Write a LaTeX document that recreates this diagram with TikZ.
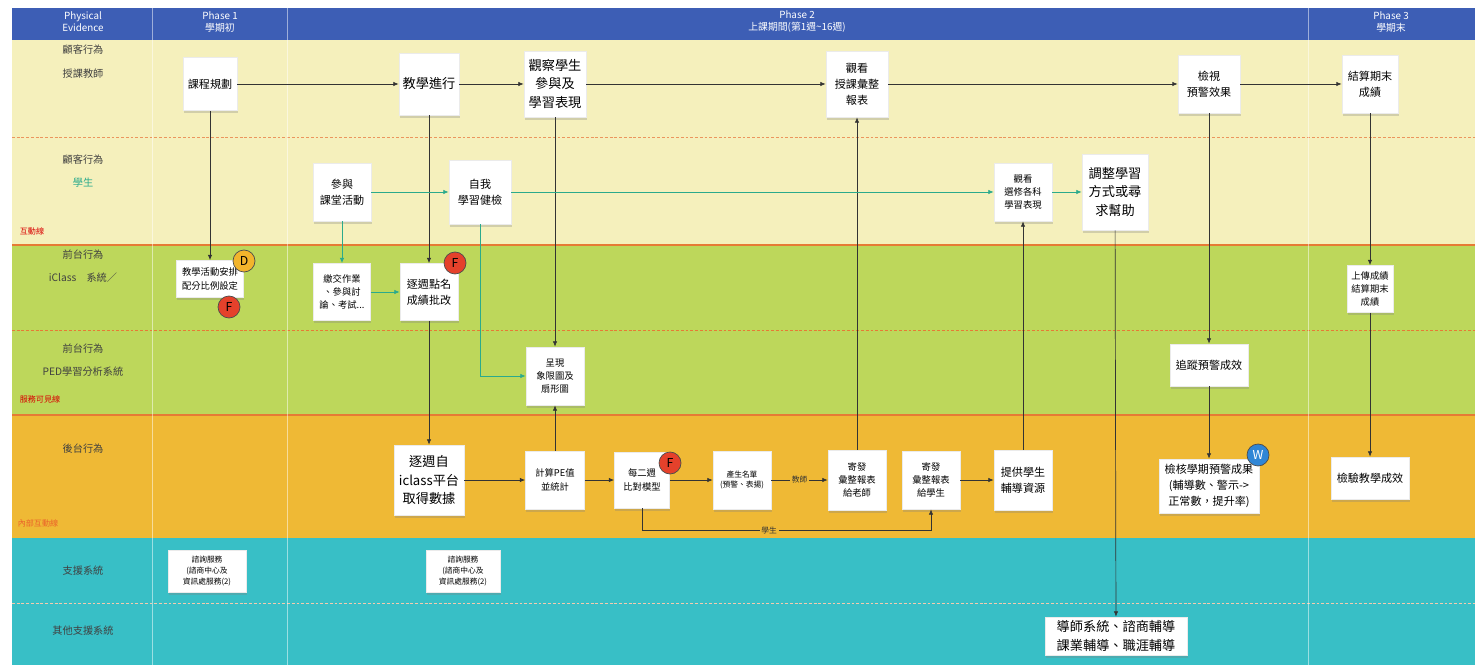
\documentclass[tikz,border=0pt]{standalone}
\usepackage{fontspec}
\setmainfont{Noto Sans CJK TC}
\usetikzlibrary{shadows,arrows.meta}

\definecolor{hdrblue}{HTML}{3D5EB5}
\definecolor{laneyel}{HTML}{F5F0BC}
\definecolor{lanegrn}{HTML}{BDD75B}
\definecolor{laneorg}{HTML}{EFB935}
\definecolor{laneteal}{HTML}{38BFC6}
\definecolor{flowteal}{HTML}{2AAA8C}
\definecolor{sepred}{HTML}{E67A35}
\definecolor{badgeyel}{HTML}{F2B42C}
\definecolor{badgered}{HTML}{E5412B}
\definecolor{badgeblue}{HTML}{2F86D6}

\begin{document}
\begin{tikzpicture}[x=0.02cm,y=-0.02cm,
  box/.style={draw=black!8,fill=white,align=center,inner sep=1pt,
    drop shadow={opacity=0.3,shadow xshift=0.5pt,shadow yshift=-1.5pt}},
  tL/.style={font=\fontsize{7.5}{10.5}\selectfont},
  tM/.style={font=\fontsize{6.3}{9}\selectfont},
  tS/.style={font=\fontsize{5.3}{7.5}\selectfont},
  tXS/.style={font=\fontsize{4.4}{6}\selectfont},
  lanelbl/.style={font=\fontsize{5.8}{7}\selectfont,text=black!75},
  linelbl/.style={font=\fontsize{4.6}{6}\selectfont},
  hdr/.style={font=\fontsize{5.6}{6.8}\selectfont,text=white,align=center},
  dotsep/.style={line width=0.5pt,dash pattern=on 1.6pt off 1.1pt},
  flow/.style={-{Latex[length=3pt,width=2.5pt]},black!80,thin},
  tflow/.style={-{Latex[length=3pt,width=2.5pt]},flowteal,thin},
  badge/.style={circle,draw=black!70,minimum size=0.44cm,inner sep=0pt,font=\fontsize{7}{8}\selectfont}]
\useasboundingbox (0,0) rectangle (1479,665);
% lanes
\fill[hdrblue] (12,8) rectangle (1475,40);
\fill[laneyel] (12,40) rectangle (1475,245);
\fill[lanegrn] (12,245) rectangle (1475,415);
\fill[laneorg] (12,415) rectangle (1475,538);
\fill[laneteal] (12,538) rectangle (1475,665);
\draw[sepred!80!white,dotsep] (12,137) -- (1475,137);
\draw[sepred,line width=0.6pt] (12,245) -- (1475,245);
\draw[sepred,dotsep] (12,330) -- (1475,330);
\draw[sepred,line width=0.6pt] (12,415) -- (1475,415);
\draw[white!60!sepred,dotsep] (12,603) -- (1475,603);
\foreach \x in {152,287,1308} {
  \draw[white,opacity=0.5] (\x,8) -- (\x,665);
}
% header
\node[hdr] (hd1) at (83,22) {Physical\\Evidence};
\node[hdr] (hd2) at (220,22) {Phase 1\\學期初};
\node[hdr] (hd3) at (797,22) {Phase 2\\上課期間(第1週\textasciitilde16週)};
\node[hdr] (hd4) at (1391,22) {Phase 3\\學期末};
% lane labels
\foreach \n/\y/\t in {la/50/顧客行為, lb/74/授課教師, lc/160/顧客行為, le/255/前台行為,
  lf/278/iClass　系統／, lg/349/前台行為, lh/372/PED學習分析系統, li/449/後台行為,
  lj/571/支援系統, lk/631/其他支援系統} {
  \node[lanelbl] (\n) at (83,\y) {\t};
}
\node[lanelbl,text=flowteal] (ld) at (83,183) {學生};
\node[linelbl,text=red!85!black] (lx1) at (32,231) {互動線};
\node[linelbl,text=red!85!black] (lx2) at (40,399) {服務可見線};
\node[linelbl,text=sepred!80!red] (lx3) at (38,523) {內部互動線};
% boxes
\foreach \n/\x/\y/\w/\h/\f/\t in {
  plan/210/84/54/53/tM/課程規劃,
  teach/429/84/60/62/tL/教學進行,
  observe/555/84/62/66/tL/{觀察學生\\參與及\\學習表現},
  view/857/84/62/66/tM/{觀看\\授課彙整\\報表},
  check/1209/84/62/58/tM/{檢視\\預警效果},
  settle/1370/84/56/58/tM/{結算期末\\成績},
  join/342/192/58/58/tM/{參與\\課堂活動},
  self/480/192/62/64/tM/{自我\\學習健檢},
  choose/1023/192/58/58/tS/{觀看\\選修各科\\學習表現},
  adjust/1115/192/66/76/tL/{調整學習\\方式或尋\\求幫助},
  arrange/210/279/67/37/tS/{教學活動安排\\配分比例設定},
  submit/342/292/57/57/tS/{繳交作業\\、參與討\\論、考試...},
  roll/429/292/58/57/tM/{逐週點名\\成績批改},
  show/555/376/58/58/tS/{呈現\\象限圖及\\扇形圖},
  track/1209/365/78/42/tM/追蹤預警成效,
  upload/1370/289/46/47/tS/{上傳成績\\結算期末\\成績},
  fetch/429/480/70/70/tL/{逐週自\\iclass平台\\取得數據},
  calc/555/480/59/58/tS/{計算PE值\\並統計},
  cmp/642/480/55/56/tS/{每二週\\比對模型},
  list/742/480/58/58/tXS/{產生名單\\(預警、表揚)},
  sendT/857/480/58/60/tS/{寄發\\彙整報表\\給老師},
  sendS/931/480/58/58/tS/{寄發\\彙整報表\\給學生},
  provide/1023/480/58/60/tM/{提供學生\\輔導資源},
  verify/1209/486/100/54/tM/{檢核學期預警成果\\(輔導數、警示->\\正常數，提升率)},
  exam/1370/478/78/42/tM/檢驗教學成效,
  help1/207/571/78/42/tXS/{諮詢服務\\(諮商中心及\\資訊處服務(2)},
  help2/463/571/74/42/tXS/{諮詢服務\\(諮商中心及\\資訊處服務(2)},
  tutor/1116/636/142/38/tL/{導師系統、諮商輔導\\課業輔導、職涯輔導}} {
  \node[box,\f,minimum width=\w*0.02cm,minimum height=\h*0.02cm] (\n) at (\x,\y) {\t};
}
% badges
\node[badge,fill=badgeyel] (bD) at (244,261) {D};
\node[badge,fill=badgered] (bF1) at (229,307) {F};
\node[badge,fill=badgered] (bF2) at (455,263) {F};
\node[badge,fill=badgered] (bF3) at (670,463) {F};
\node[badge,fill=badgeblue,text=white] (bW) at (1258,455) {W};
% teacher and system flows
\draw[flow] (plan) -- (teach);
\draw[flow] (teach) -- (observe);
\draw[flow] (observe) -- (view);
\draw[flow] (view) -- (check);
\draw[flow] (check) -- (settle);
\draw[flow] (plan) -- (arrange);
\draw[flow] (teach) -- (roll);
\draw[flow] (roll) -- (fetch);
\draw[flow] (observe) -- (show);
\draw[flow] (calc) -- (show);
\draw[flow] (sendT) -- (view);
\draw[flow] (provide) -- (choose);
\draw[flow] (adjust) -- (tutor);
\draw[flow] (check) -- (track);
\draw[flow] (track) -- (verify);
\draw[flow] (settle) -- (upload);
\draw[flow] (upload) -- (exam);
\draw[flow] (fetch) -- (calc);
\draw[flow] (calc) -- (cmp);
\draw[flow] (cmp) -- (list);
\draw[flow] (list) -- node[fill=laneorg,tXS,inner sep=1pt] (lblT) {教師} (sendT);
\draw[flow] (sendS) -- (provide);
\draw[flow] (cmp.south) -- ++(0,22) -| node[pos=0.22,fill=laneorg,tXS,inner sep=1pt] (lblS) {學生} (sendS.south);
% student flows
\draw[tflow] (join) -- (self);
\draw[tflow] (join) -- (submit);
\draw[tflow] (submit) -- (roll);
\draw[tflow] (self) -- (choose);
\draw[tflow] (choose) -- (adjust);
\draw[tflow] (self) |- (show);
\end{tikzpicture}
\end{document}
